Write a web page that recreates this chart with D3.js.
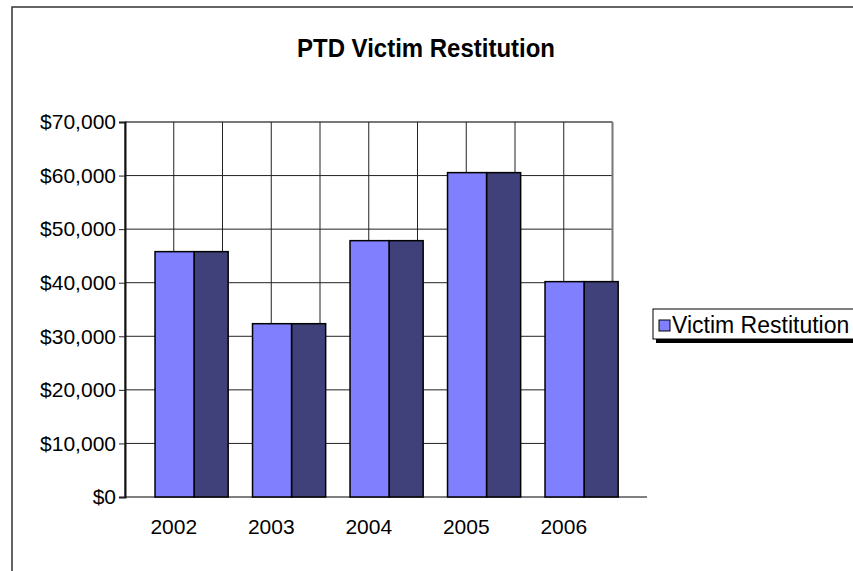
<!DOCTYPE html>
<html>
<head>
<meta charset="utf-8">
<script src="https://cdn.jsdelivr.net/npm/d3@7"></script>
<style>
  body { margin: 0; background: #fff; }
  text { font-family: "Liberation Sans", Arial, sans-serif; }
</style>
</head>
<body>
<div id="chart"></div>
<script>
var years = ["2002", "2003", "2004", "2005", "2006"];
var restitution = [45800, 32350, 47850, 60550, 40200];
var yTicks = [0, 10000, 20000, 30000, 40000, 50000, 60000, 70000];
var seriesName = "Victim Restitution";

var width = 853, height = 571;
var svg = d3.select("#chart").append("svg").attr("width", width).attr("height", height);

// outer chart border (runs off the right and bottom edge)
svg.append("rect")
	.attr("x", 12).attr("y", 7)
	.attr("width", 900).attr("height", 600)
	.style("fill", "#fff").style("stroke", "#333").style("stroke-width", 1.5);

svg.append("text")
	.attr("x", 297).attr("y", 57)
	.attr("textLength", 258).attr("lengthAdjust", "spacingAndGlyphs")
	.style("font-size", "26px").style("font-weight", "bold")
	.text("PTD Victim Restitution");

var x = d3.scaleBand().domain(years).range([125, 612.5]);
var y = d3.scaleLinear().domain([0, 70000]).range([497, 122]);

var grid = svg.append("g").attr("class", "grid");

// horizontal gridlines
grid.selectAll("line.h")
	.data(yTicks.slice(1))
	.enter().append("line")
		.attr("x1", 125).attr("x2", 612.5)
		.attr("y1", d => y(d)).attr("y2", d => y(d))
		.style("stroke", (d, i) => d == 70000 ? "#777" : "#222")
		.style("stroke-width", (d, i) => d == 70000 ? 2 : 1);

// vertical gridlines at every half category
var vLines = d3.range(0, years.length * 2 + 1).map(k => 125 + k * x.bandwidth() / 2);
grid.selectAll("line.v")
	.data(vLines)
	.enter().append("line")
		.attr("x1", d => d).attr("x2", d => d)
		.attr("y1", y(70000)).attr("y2", y(0))
		.style("stroke", (d, i) => i == vLines.length - 1 ? "#777" : "#222")
		.style("stroke-width", (d, i) => i == vLines.length - 1 ? 2 : 1);

// floor / x axis line
svg.append("line")
	.attr("x1", 125).attr("x2", 647)
	.attr("y1", y(0)).attr("y2", y(0))
	.style("stroke", "#808080").style("stroke-width", 2);

// y axis
var yAxis = svg.append("g")
	.attr("transform", "translate(125,0)")
	.call(d3.axisLeft(y).tickValues(yTicks).tickSize(6).tickPadding(3)
		.tickFormat(d => "$" + d3.format(",")(d)));
yAxis.select(".domain").style("stroke", "#111").style("stroke-width", 2);
yAxis.selectAll(".tick line").style("stroke", "#222");
yAxis.selectAll("text").style("font-size", "21px").style("fill", "#000");

// bars: light front face + dark side face
var bw = x.bandwidth();
var bars = svg.append("g").attr("class", "bars");
bars.selectAll("rect.side")
	.data(restitution)
	.enter().append("rect")
		.attr("x", (d, i) => x(years[i]) + bw * 0.308 + bw * 0.4)
		.attr("y", d => y(d))
		.attr("width", bw * 0.35)
		.attr("height", d => y(0) - y(d))
		.style("fill", "#40407a").style("stroke", "#000").style("stroke-width", 1.5);
bars.selectAll("rect.front")
	.data(restitution)
	.enter().append("rect")
		.attr("x", (d, i) => x(years[i]) + bw * 0.308)
		.attr("y", d => y(d))
		.attr("width", bw * 0.4)
		.attr("height", d => y(0) - y(d))
		.style("fill", "#8080ff").style("stroke", "#000").style("stroke-width", 1.5);

// category labels
svg.selectAll("text.year")
	.data(years)
	.enter().append("text")
		.attr("x", d => x(d) + bw / 2)
		.attr("y", 534)
		.attr("text-anchor", "middle")
		.style("font-size", "21px")
		.text(d => d);

// legend with drop shadow
var legend = svg.append("g").attr("transform", "translate(653,309)");
legend.append("rect")
	.attr("x", 3).attr("y", 3).attr("width", 260).attr("height", 31)
	.style("fill", "#000");
legend.append("rect")
	.attr("x", 0).attr("y", 0).attr("width", 260).attr("height", 30)
	.style("fill", "#fff").style("stroke", "#000").style("stroke-width", 1);
legend.append("rect")
	.attr("x", 6).attr("y", 11).attr("width", 11).attr("height", 11)
	.style("fill", "#8080ff").style("stroke", "#000").style("stroke-width", 1);
legend.append("text")
	.attr("x", 19).attr("y", 24)
	.style("font-size", "23px")
	.text(seriesName);
</script>
</body>
</html>
